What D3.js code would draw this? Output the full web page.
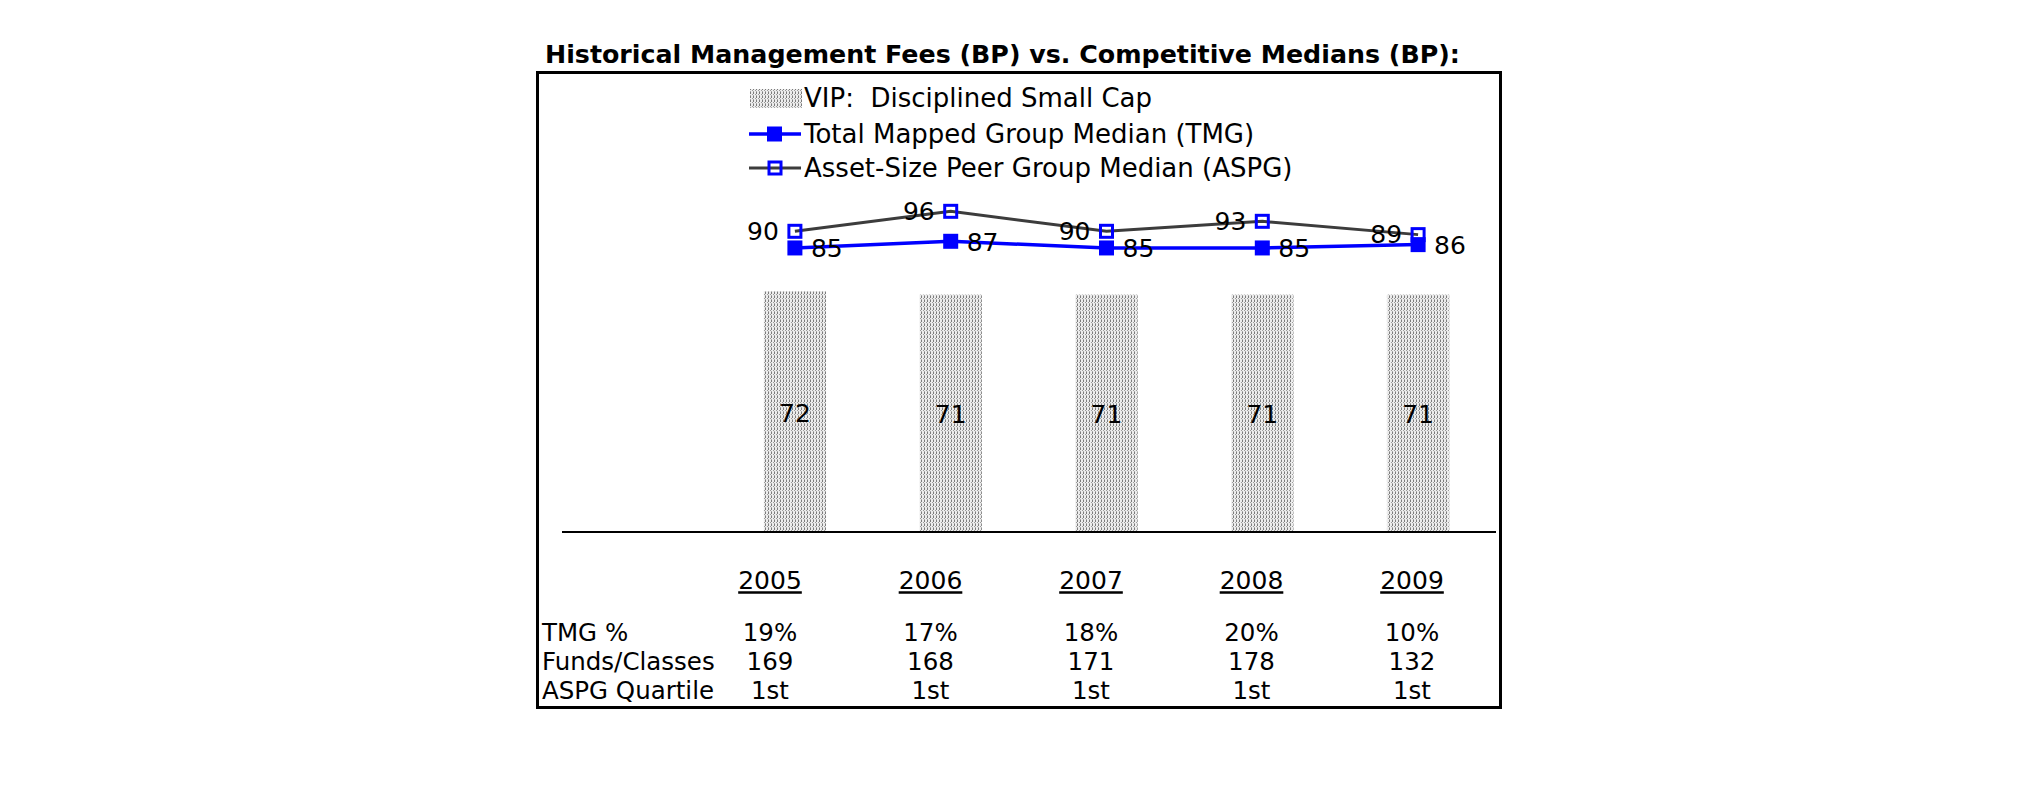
<!DOCTYPE html>
<html>
<head>
<meta charset="utf-8">
<script src="https://cdn.jsdelivr.net/npm/d3@7"></script>
<style>
  html, body { margin: 0; padding: 0; background: #ffffff; }
  svg { display: block; }
  text { font-family: "DejaVu Sans", Verdana, sans-serif; fill: #000; }
</style>
</head>
<body>
<svg id="chart" width="2025" height="806"></svg>
<script>
// ---------- data ----------
const years = ["2005", "2006", "2007", "2008", "2009"];
const vipFees = [72, 71, 71, 71, 71];
const tmgMedian = [85, 87, 85, 85, 86];
const aspgMedian = [90, 96, 90, 93, 89];
const tmgPct = ["19%", "17%", "18%", "20%", "10%"];
const fundsClasses = ["169", "168", "171", "178", "132"];
const aspgQuartile = ["1st", "1st", "1st", "1st", "1st"];
const rowLabels = ["TMG %", "Funds/Classes", "ASPG Quartile"];
const legendLabels = ["VIP:  Disciplined Small Cap", "Total Mapped Group Median (TMG)", "Asset-Size Peer Group Median (ASPG)"];
const titleText = "Historical Management Fees (BP) vs. Competitive Medians (BP):";

// ---------- layout ----------
const svg = d3.select("#chart");
const FS_LABEL = 25, FS_LEGEND = 26, FS_TABLE = 24.5;
const BLUE = "#0000ff", GREY = "#3c3c3c";

// pattern for stippled bars
const defs = svg.append("defs");
const pat = defs.append("pattern").attr("id", "stipple")
  .attr("patternUnits", "userSpaceOnUse").attr("width", 3).attr("height", 4);
pat.append("rect").attr("width", 3).attr("height", 4).attr("fill", "#ececec");
pat.append("rect").attr("x", 0).attr("y", 0).attr("width", 1).attr("height", 2).attr("fill", "#7c7c7c");
pat.append("rect").attr("x", 0).attr("y", 3).attr("width", 1).attr("height", 1).attr("fill", "#a8a8a8");
pat.append("rect").attr("x", 2).attr("y", 2).attr("width", 1).attr("height", 1).attr("fill", "#9a9a9a");

// title
svg.append("text").attr("x", 545).attr("y", 63)
  .attr("font-weight", "bold").attr("font-size", 25.3)
  .text(titleText);

// frame
svg.append("rect").attr("x", 537.5).attr("y", 72.5).attr("width", 963).attr("height", 635)
  .attr("fill", "none").attr("stroke", "#000").attr("stroke-width", 3);

// scales
const x = d3.scaleBand().domain(years).range([717, 1496]).paddingInner(0.6).paddingOuter(0.3);
const y = d3.scaleLinear().domain([0, 100]).range([531, 198]);
const cx = d => x(d) + x.bandwidth() / 2;

// bars
svg.append("g").selectAll("rect").data(years).join("rect")
  .attr("x", d => x(d)).attr("width", x.bandwidth())
  .attr("y", (d, i) => y(vipFees[i])).attr("height", (d, i) => y(0) - y(vipFees[i]))
  .attr("fill", "url(#stipple)");

// axis baseline
const axis = d3.axisBottom(x).tickSize(0).tickFormat("");
const gAxis = svg.append("g").attr("transform", `translate(0,${y(0) + 1})`).call(axis);
gAxis.select(".domain").remove();
gAxis.append("line").attr("x1", 562).attr("x2", 1496).attr("stroke", "#000").attr("stroke-width", 2);

// bar labels
svg.append("g").selectAll("text").data(years).join("text")
  .attr("x", d => cx(d)).attr("y", (d, i) => (y(vipFees[i]) + y(0)) / 2 + 2)
  .attr("text-anchor", "middle").attr("dominant-baseline", "central")
  .attr("font-size", FS_LABEL).text((d, i) => vipFees[i]);

// lines
const line = d3.line().x(d => cx(d[0])).y(d => y(d[1]));
svg.append("path").datum(years.map((d, i) => [d, aspgMedian[i]]))
  .attr("d", line).attr("fill", "none").attr("stroke", GREY).attr("stroke-width", 3);
svg.append("path").datum(years.map((d, i) => [d, tmgMedian[i]]))
  .attr("d", line).attr("fill", "none").attr("stroke", BLUE).attr("stroke-width", 3.5);

// markers
svg.append("g").selectAll("rect").data(years).join("rect")
  .attr("x", d => cx(d) - 7.5).attr("y", (d, i) => y(tmgMedian[i]) - 7.5)
  .attr("width", 15).attr("height", 15).attr("fill", BLUE);
svg.append("g").selectAll("rect").data(years).join("rect")
  .attr("x", d => cx(d) - 6).attr("y", (d, i) => y(aspgMedian[i]) - 6)
  .attr("width", 12).attr("height", 12).attr("fill", "none").attr("stroke", BLUE).attr("stroke-width", 3);

// data labels
svg.append("g").selectAll("text").data(years).join("text")
  .attr("x", d => cx(d) - 16).attr("y", (d, i) => y(aspgMedian[i]))
  .attr("text-anchor", "end").attr("dominant-baseline", "central")
  .attr("font-size", FS_LABEL).text((d, i) => aspgMedian[i]);
svg.append("g").selectAll("text").data(years).join("text")
  .attr("x", d => cx(d) + 16).attr("y", (d, i) => y(tmgMedian[i]) + 1)
  .attr("text-anchor", "start").attr("dominant-baseline", "central")
  .attr("font-size", FS_LABEL).text((d, i) => tmgMedian[i]);

// legend
const lg = svg.append("g");
const legY = [98, 134, 168];
lg.append("rect").attr("x", 750).attr("y", 89).attr("width", 52).attr("height", 19).attr("fill", "url(#stipple)");
lg.append("line").attr("x1", 749).attr("x2", 801).attr("y1", legY[1]).attr("y2", legY[1]).attr("stroke", BLUE).attr("stroke-width", 3.5);
lg.append("rect").attr("x", 767).attr("y", legY[1] - 7.5).attr("width", 15).attr("height", 15).attr("fill", BLUE);
lg.append("line").attr("x1", 749).attr("x2", 801).attr("y1", legY[2]).attr("y2", legY[2]).attr("stroke", GREY).attr("stroke-width", 3);
lg.append("rect").attr("x", 769).attr("y", legY[2] - 6).attr("width", 12).attr("height", 12).attr("fill", "none").attr("stroke", BLUE).attr("stroke-width", 3);
lg.selectAll("text").data(legendLabels).join("text")
  .attr("x", 804).attr("y", (d, i) => legY[i]).attr("dominant-baseline", "central")
  .attr("font-size", FS_LEGEND).style("white-space", "pre").text(d => d);

// table
const col = d3.scalePoint().domain(years).range([770, 1412]);
const yearText = svg.append("g").selectAll("text").data(years).join("text")
  .attr("x", d => col(d)).attr("y", 589).attr("text-anchor", "middle")
  .attr("font-size", FS_LABEL).text(d => d);
yearText.each(function () {
  const b = this.getBBox();
  svg.append("line").attr("x1", b.x).attr("x2", b.x + b.width).attr("y1", 592.5).attr("y2", 592.5)
    .attr("stroke", "#000").attr("stroke-width", 2.5);
});

const rows = [tmgPct, fundsClasses, aspgQuartile];
const rowY = [641, 670, 699];
svg.append("g").selectAll("text").data(rowLabels).join("text")
  .attr("x", 542).attr("y", (d, i) => rowY[i]).attr("font-size", FS_TABLE).text(d => d);
rows.forEach((r, ri) => {
  svg.append("g").selectAll("text").data(years).join("text")
    .attr("x", d => col(d)).attr("y", rowY[ri]).attr("text-anchor", "middle")
    .attr("font-size", FS_TABLE).text((d, i) => r[i]);
});
</script>
</body>
</html>
